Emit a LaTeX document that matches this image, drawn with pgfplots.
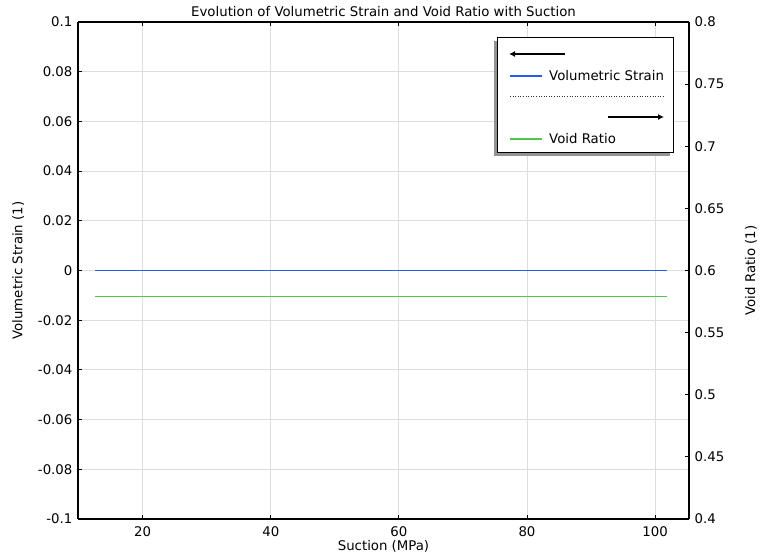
\documentclass[border=0pt]{standalone}
\usepackage{fontspec}
\setmainfont{DejaVu Sans}
\usepackage{pgfplots}
\pgfplotsset{compat=1.18}
\usetikzlibrary{arrows.meta}

\definecolor{strainblue}{RGB}{40,90,240}
\definecolor{voidgreen}{RGB}{80,200,80}
\definecolor{gridgray}{RGB}{222,222,222}

\newcommand{\chartfont}{\fontsize{13.3bp}{15bp}\selectfont}

\begin{document}
\chartfont
\begin{tikzpicture}[x=1bp,y=1bp]
\pgfplotsset{
  every axis title shift=0pt,
  chartbase/.style={
    scale only axis,
    width=611bp, height=497bp,
    at={(0,0)}, anchor=south west,
    xmin=9.9, xmax=105.3,
    tick align=inside,
    major tick length=4bp,
    every tick/.style={black, line width=0.8bp},
    axis line style={black, line width=1.2bp},
    tick label style={font=\chartfont},
    label style={font=\chartfont},
    /pgf/number format/assume math mode=true,
    scaled ticks=false,
  },
}
% Left axis: volumetric strain
\begin{axis}[
  chartbase,
  ymin=-0.1, ymax=0.1,
  xtick={20,40,60,80,100},
  ytick={-0.1,-0.08,-0.06,-0.04,-0.02,0,0.02,0.04,0.06,0.08,0.1},
  yticklabels={-0.1,-0.08,-0.06,-0.04,-0.02,0,0.02,0.04,0.06,0.08,0.1},
  axis y line*=left,
  axis x line*=box,
  grid=major,
  major grid style={gridgray, line width=0.8bp},
  xticklabel style={yshift=-3bp},
  yticklabel style={xshift=-1bp},
  xlabel={Suction (MPa)},
  ylabel={Volumetric Strain (1)},
  xlabel style={at={(axis description cs:0.5,-0.054)}, anchor=center},
  ylabel style={at={(axis description cs:-0.098,0.5)}, anchor=center, rotate=0},
  title={Evolution of Volumetric Strain and Void Ratio with Suction},
  title style={at={(axis description cs:0.5,1.021)}, anchor=center, font=\chartfont},
]
\addplot[strainblue, line width=1.1bp] coordinates {
  (12.6,0) (20,0) (30,0) (40,0) (50,0) (60,0) (70,0) (80,0) (90,0) (101.9,0)
};
\end{axis}
% Right axis: void ratio
\begin{axis}[
  chartbase,
  ymin=0.4, ymax=0.8,
  axis y line*=right,
  axis x line=none,
  ytick={0.4,0.45,0.5,0.55,0.6,0.65,0.7,0.75,0.8},
  yticklabels={0.4,0.45,0.5,0.55,0.6,0.65,0.7,0.75,0.8},
  yticklabel style={xshift=1bp},
  ylabel={Void Ratio (1)},
  ylabel style={at={(axis description cs:1.1015,0.5)}, anchor=center, rotate=0},
]
\addplot[voidgreen, line width=1.1bp] coordinates {
  (12.6,0.579) (20,0.579) (30,0.579) (40,0.579) (50,0.579) (60,0.579) (70,0.579) (80,0.579) (90,0.579) (101.9,0.579)
};
\end{axis}
% Legend box with drop shadow
\fill[gray!85] (416,363) rectangle (592,478);
\filldraw[fill=white, draw=black, line width=1bp] (419,366) rectangle (595,481);
\draw[black, line width=1.2bp, -{Latex[length=6bp,width=6bp]}] (487,465) -- (431,465);
\draw[strainblue, line width=1.1bp] (432,443) -- (464,443);
\node[anchor=west, inner sep=0pt] at (471,443) {Volumetric Strain};
\draw[black!80, line width=0.6bp, dotted] (432,423) -- (585,423);
\draw[black, line width=1.2bp, -{Latex[length=6bp,width=6bp]}] (530,402) -- (586,402);
\draw[voidgreen, line width=1.1bp] (432,380) -- (464,380);
\node[anchor=west, inner sep=0pt] at (471,380) {Void Ratio};
% Page extent
\pgfresetboundingbox
\path (-78,-36) rectangle (682,519);
\end{tikzpicture}
\end{document}
